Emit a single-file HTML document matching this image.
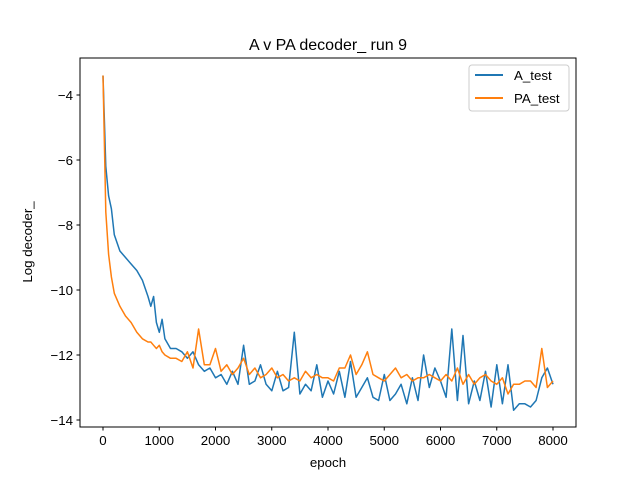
<!DOCTYPE html>
<html><head><meta charset="utf-8"><style>
body{margin:0;background:#fff}
svg text{font-family:"Liberation Sans","DejaVu Sans",sans-serif;fill:#000}
</style></head><body>
<svg id="chart" width="640" height="480" xmlns="http://www.w3.org/2000/svg">
<rect width="640" height="480" fill="#fff"/>
<text x="328" y="50" font-size="16" text-anchor="middle">A v PA decoder_ run 9</text>
<g id="plot"></g>
<rect x="80" y="58" width="496" height="369" fill="none" stroke="#000" stroke-width="1"/>
<text x="328" y="467" font-size="13.3" text-anchor="middle">epoch</text>
<text transform="translate(32,242) rotate(-90)" font-size="13.3" text-anchor="middle">Log decoder_</text>
<g>
<rect x="469" y="65" width="100" height="46" rx="3" fill="#fff" stroke="#ccc"/>
<line x1="475" y1="75" x2="503" y2="75" stroke="#1f77b4" stroke-width="2"/>
<text x="514" y="80" font-size="13.3">A_test</text>
<line x1="475" y1="98" x2="503" y2="98" stroke="#ff7f0e" stroke-width="2"/>
<text x="514" y="103" font-size="13.3">PA_test</text>
</g>
</svg>
<script>
const epochs=[0,50,100,150,200,300,400,500,600,700,800,850,900,950,1000,1050,1100,1200,1300,1400,1500,1600,1700,1800,1900,2000,2100,2200,2300,2400,2500,2600,2700,2800,2900,3000,3100,3200,3300,3400,3500,3600,3700,3800,3900,4000,4100,4200,4300,4400,4500,4600,4700,4800,4900,5000,5100,5200,5300,5400,5500,5600,5700,5800,5900,6000,6100,6200,6300,6400,6500,6600,6700,6800,6900,7000,7100,7200,7300,7400,7500,7600,7700,7800,7900,8000];
const aTest=[-3.4,-6.2,-7.1,-7.5,-8.3,-8.8,-9.0,-9.2,-9.4,-9.7,-10.2,-10.5,-10.2,-11.0,-11.3,-10.9,-11.5,-11.8,-11.8,-11.9,-12.1,-11.9,-12.3,-12.5,-12.4,-12.7,-12.6,-12.9,-12.5,-12.9,-11.7,-12.9,-12.8,-12.3,-12.9,-13.1,-12.5,-13.1,-13.0,-11.3,-13.2,-12.9,-13.1,-12.3,-13.3,-12.8,-13.2,-12.5,-13.3,-12.2,-13.3,-13.0,-12.7,-13.3,-13.4,-12.6,-13.4,-13.2,-12.9,-13.5,-12.7,-13.4,-12.0,-13.0,-12.4,-12.8,-13.3,-11.2,-13.4,-11.4,-13.5,-12.8,-13.4,-12.5,-13.6,-12.3,-13.5,-12.3,-13.7,-13.5,-13.5,-13.6,-13.4,-12.7,-12.4,-12.9];
const paTest=[-3.4,-7.6,-8.9,-9.6,-10.1,-10.5,-10.8,-11.0,-11.3,-11.5,-11.6,-11.6,-11.7,-11.8,-11.7,-11.9,-12.0,-12.1,-12.1,-12.2,-11.9,-12.4,-11.2,-12.3,-12.3,-11.8,-12.5,-12.3,-12.6,-12.4,-12.1,-12.6,-12.4,-12.7,-12.6,-12.4,-12.7,-12.6,-12.8,-12.7,-12.8,-12.5,-12.7,-12.6,-12.7,-12.7,-12.8,-12.4,-12.4,-12.0,-12.6,-12.3,-11.9,-12.6,-12.7,-12.8,-12.6,-12.4,-12.7,-12.6,-12.8,-12.7,-12.7,-12.6,-12.7,-12.8,-12.6,-12.8,-12.4,-12.9,-12.6,-12.9,-12.7,-12.6,-12.8,-12.9,-12.7,-13.2,-12.9,-12.9,-12.8,-12.8,-13.0,-11.8,-13.0,-12.8];
const xTicks=[0,1000,2000,3000,4000,5000,6000,7000,8000];
const yTicks=[-4,-6,-8,-10,-12,-14];
const NS="http://www.w3.org/2000/svg";
const xs=v=>103+v*450/8000;
const ys=v=>95-(v+4)*32.5;
const svg=document.getElementById('chart');
const plot=document.getElementById('plot');
function mk(tag,attrs,parent){const e=document.createElementNS(NS,tag);for(const k in attrs)e.setAttribute(k,attrs[k]);parent.appendChild(e);return e;}
xTicks.forEach(t=>{
  const l=mk('line',{x1:xs(t),x2:xs(t),y1:427,y2:430.5,stroke:'#000'},svg);
  
  
  const tx=mk('text',{x:xs(t),y:445,'font-size':13.3,'text-anchor':'middle'},svg);
  tx.textContent=t;
  
  
});
yTicks.forEach(t=>{
  const l=mk('line',{x1:76.5,x2:80,y1:ys(t),y2:ys(t),stroke:'#000'},svg);
  
  
  const tx=mk('text',{x:73,y:ys(t)+5,'font-size':13.3,'text-anchor':'end'},svg);
  tx.textContent='\u2212'+Math.abs(t);
  
  
});
function line(vals,color,name){
  const d=vals.map((v,i)=>(i?'L':'M')+xs(epochs[i]).toFixed(1)+','+ys(v).toFixed(1)).join('');
  const p=mk('path',{d:d,fill:'none',stroke:color,'stroke-width':1.5,'stroke-linejoin':'round'},plot);
  
  
}
line(aTest,'#1f77b4','a-test-line');
line(paTest,'#ff7f0e','pa-test-line');
</script>
</body></html>
